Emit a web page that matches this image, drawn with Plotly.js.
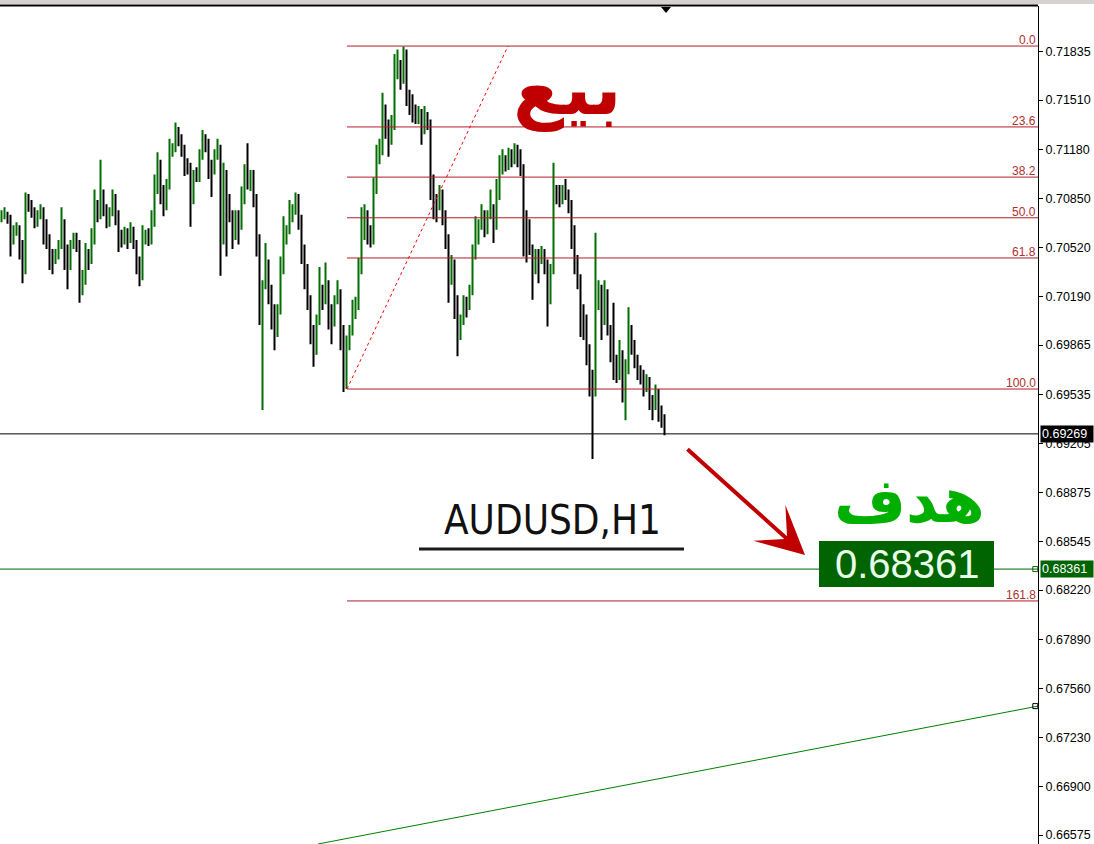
<!DOCTYPE html>
<html><head><meta charset="utf-8">
<script src="https://cdn.plot.ly/plotly-3.0.1.min.js"></script>
<style>html,body{margin:0;padding:0;background:#fff;overflow:hidden}#chart{width:1094px;height:844px}</style>
</head><body><div id="chart"></div>
<script>
// ---- AUDUSD H1 bars (prices) ----
const barOpen = [0.7072,0.7073,0.7075,0.7072,0.7057,0.7063,0.7065,0.7054,0.7037,0.7084,
0.7081,0.7076,0.7069,0.7073,0.7077,0.7067,0.7057,0.7047,0.7043,0.7047,
0.7054,0.7067,0.7051,0.7041,0.7054,0.7057,0.7054,0.7027,0.7030,0.7047,
0.7043,0.7057,0.7081,0.7074,0.7088,0.7077,0.7069,0.7076,0.7086,0.7074,
0.7061,0.7057,0.7063,0.7059,0.7064,0.7054,0.7043,0.7034,0.7057,0.7061,
0.7057,0.7069,0.7091,0.7108,0.7091,0.7081,0.7094,0.7118,0.7119,0.7128,
0.7125,0.7118,0.7108,0.7106,0.7084,0.7101,0.7099,0.7114,0.7125,0.7121,
0.7108,0.7104,0.7114,0.7119,0.7057,0.7101,0.7084,0.7074,0.7061,0.7074,
0.7067,0.7084,0.7101,0.7094,0.7101,0.7084,0.7057,0.7004,0.7027,0.7041,
0.7024,0.7010,0.6997,0.7010,0.7037,0.7057,0.7064,0.7074,0.7077,0.7084,
0.7071,0.7051,0.7037,0.7017,0.6997,0.6983,0.7004,0.7024,0.7017,0.7027,
0.7010,0.7004,0.7017,0.7020,0.6997,0.6960,0.6987,0.6997,0.7007,0.7014,
0.7037,0.7061,0.7074,0.7064,0.7057,0.7091,0.7111,0.7118,0.7145,0.7135,
0.7125,0.7135,0.7172,0.7175,0.7165,0.7182,0.7155,0.7151,0.7145,0.7138,
0.7141,0.7131,0.7138,0.7135,0.7098,0.7084,0.7081,0.7088,0.7074,0.7057,
0.7034,0.7041,0.7017,0.6997,0.7004,0.7017,0.7014,0.7024,0.7047,0.7064,
0.7067,0.7074,0.7064,0.7074,0.7077,0.7067,0.7088,0.7104,0.7111,0.7108,
0.7114,0.7111,0.7118,0.7111,0.7104,0.7074,0.7067,0.7051,0.7037,0.7047,
0.7044,0.7047,0.7041,0.7017,0.7037,0.7091,0.7088,0.7084,0.7091,0.7088,
0.7081,0.7064,0.7044,0.7030,0.7010,0.7004,0.6983,0.6967,0.6957,0.7017,
0.7024,0.7004,0.7020,0.6997,0.6987,0.6977,0.6967,0.6980,0.6963,0.6970,
0.6997,0.6987,0.6977,0.6970,0.6967,0.6960,0.6963,0.6950,0.6946,0.6953,
0.6943,0.6936];
const barHigh = [0.7077,0.7079,0.7076,0.7074,0.7067,0.7069,0.7067,0.7057,0.7089,0.7088,
0.7084,0.7079,0.7077,0.7081,0.7079,0.7071,0.7061,0.7051,0.7051,0.7057,
0.7079,0.7071,0.7054,0.7057,0.7062,0.7062,0.7057,0.7037,0.7055,0.7051,
0.7065,0.7091,0.7084,0.7111,0.7091,0.7081,0.7079,0.7091,0.7088,0.7077,
0.7064,0.7066,0.7065,0.7069,0.7066,0.7057,0.7046,0.7067,0.7064,0.7065,
0.7077,0.7101,0.7116,0.7111,0.7094,0.7098,0.7125,0.7122,0.7136,0.7133,
0.7128,0.7121,0.7112,0.7109,0.7104,0.7106,0.7118,0.7131,0.7128,0.7125,
0.7111,0.7118,0.7125,0.7121,0.7109,0.7104,0.7088,0.7077,0.7077,0.7077,
0.7093,0.7108,0.7122,0.7104,0.7104,0.7088,0.7061,0.7030,0.7055,0.7044,
0.7027,0.7014,0.7014,0.7046,0.7073,0.7067,0.7084,0.7081,0.7089,0.7088,
0.7074,0.7054,0.7041,0.7020,0.7000,0.7007,0.7039,0.7027,0.7042,0.7030,
0.7014,0.7020,0.7030,0.7024,0.7000,0.6993,0.7000,0.7017,0.7019,0.7045,
0.7079,0.7081,0.7077,0.7067,0.7099,0.7121,0.7125,0.7156,0.7148,0.7138,
0.7141,0.7182,0.7185,0.7178,0.7187,0.7185,0.7158,0.7155,0.7148,0.7147,
0.7145,0.7147,0.7143,0.7138,0.7101,0.7088,0.7094,0.7091,0.7077,0.7061,
0.7047,0.7044,0.7020,0.7007,0.7020,0.7019,0.7027,0.7054,0.7073,0.7071,
0.7081,0.7077,0.7077,0.7091,0.7081,0.7098,0.7114,0.7118,0.7114,0.7119,
0.7118,0.7122,0.7121,0.7118,0.7108,0.7077,0.7071,0.7054,0.7051,0.7051,
0.7053,0.7051,0.7044,0.7041,0.7109,0.7094,0.7094,0.7094,0.7098,0.7091,
0.7084,0.7067,0.7047,0.7034,0.7014,0.7007,0.6987,0.6970,0.7062,0.7030,
0.7027,0.7030,0.7024,0.7000,0.7015,0.6980,0.6990,0.6983,0.6977,0.7012,
0.7000,0.6990,0.6980,0.6973,0.6970,0.6967,0.6965,0.6953,0.6960,0.6957,
0.6946,0.6940];
const barLow = [0.7069,0.7071,0.7068,0.7046,0.7054,0.7060,0.7044,0.7028,0.7034,0.7076,
0.7072,0.7065,0.7066,0.7071,0.7054,0.7051,0.7037,0.7034,0.7041,0.7044,
0.7051,0.7037,0.7024,0.7037,0.7051,0.7049,0.7015,0.7020,0.7027,0.7037,
0.7041,0.7054,0.7069,0.7071,0.7073,0.7065,0.7066,0.7073,0.7067,0.7049,
0.7052,0.7054,0.7051,0.7055,0.7051,0.7034,0.7026,0.7030,0.7054,0.7053,
0.7054,0.7066,0.7088,0.7081,0.7073,0.7077,0.7091,0.7113,0.7116,0.7120,
0.7113,0.7100,0.7101,0.7066,0.7081,0.7096,0.7096,0.7111,0.7116,0.7098,
0.7086,0.7101,0.7111,0.7033,0.7054,0.7046,0.7069,0.7051,0.7057,0.7054,
0.7064,0.7081,0.7091,0.7090,0.7079,0.7046,0.7000,0.6943,0.7024,0.7014,
0.6997,0.6983,0.6992,0.7007,0.7034,0.7054,0.7061,0.7069,0.7074,0.7064,
0.7041,0.7024,0.7010,0.6987,0.6972,0.6980,0.7000,0.7010,0.7014,0.6997,
0.6987,0.6999,0.7014,0.6983,0.6955,0.6957,0.6983,0.6993,0.7004,0.7010,
0.7034,0.7057,0.7054,0.7052,0.7054,0.7088,0.7108,0.7114,0.7125,0.7113,
0.7121,0.7131,0.7165,0.7158,0.7162,0.7147,0.7141,0.7136,0.7135,0.7135,
0.7121,0.7128,0.7131,0.7084,0.7071,0.7069,0.7077,0.7067,0.7051,0.7015,
0.7027,0.7004,0.6979,0.6990,0.7000,0.7005,0.7010,0.7020,0.7044,0.7054,
0.7064,0.7059,0.7061,0.7071,0.7055,0.7064,0.7084,0.7101,0.7103,0.7104,
0.7106,0.7108,0.7106,0.7100,0.7046,0.7042,0.7047,0.7017,0.7034,0.7028,
0.7041,0.7034,0.6999,0.7014,0.7034,0.7081,0.7079,0.7081,0.7084,0.7075,
0.7051,0.7034,0.7024,0.6992,0.6990,0.6973,0.6952,0.6910,0.6952,0.7010,
0.6990,0.7000,0.6993,0.6975,0.6963,0.6961,0.6963,0.6948,0.6936,0.6967,
0.6980,0.6971,0.6963,0.6960,0.6952,0.6955,0.6943,0.6936,0.6943,0.6935,
0.6931,0.6926];
const barClose = [0.7073,0.7075,0.7072,0.7057,0.7063,0.7065,0.7054,0.7037,0.7084,0.7081,
0.7076,0.7069,0.7073,0.7077,0.7067,0.7057,0.7047,0.7043,0.7047,0.7054,
0.7067,0.7051,0.7041,0.7054,0.7057,0.7054,0.7027,0.7030,0.7047,0.7043,
0.7057,0.7081,0.7074,0.7088,0.7077,0.7069,0.7076,0.7086,0.7074,0.7061,
0.7057,0.7063,0.7059,0.7064,0.7054,0.7043,0.7034,0.7057,0.7061,0.7057,
0.7069,0.7091,0.7108,0.7091,0.7081,0.7094,0.7118,0.7119,0.7128,0.7125,
0.7118,0.7108,0.7106,0.7084,0.7101,0.7099,0.7114,0.7125,0.7121,0.7108,
0.7104,0.7114,0.7119,0.7057,0.7101,0.7084,0.7074,0.7061,0.7074,0.7067,
0.7084,0.7101,0.7094,0.7101,0.7084,0.7057,0.7004,0.7027,0.7041,0.7024,
0.7010,0.6997,0.7010,0.7037,0.7057,0.7064,0.7074,0.7077,0.7084,0.7071,
0.7051,0.7037,0.7017,0.6997,0.6983,0.7004,0.7024,0.7017,0.7027,0.7010,
0.7004,0.7017,0.7020,0.6997,0.6960,0.6987,0.6997,0.7007,0.7014,0.7037,
0.7061,0.7074,0.7064,0.7057,0.7091,0.7111,0.7118,0.7145,0.7135,0.7125,
0.7135,0.7172,0.7175,0.7165,0.7182,0.7155,0.7151,0.7145,0.7138,0.7141,
0.7131,0.7138,0.7135,0.7098,0.7084,0.7081,0.7088,0.7074,0.7057,0.7034,
0.7041,0.7017,0.6997,0.7004,0.7017,0.7014,0.7024,0.7047,0.7064,0.7067,
0.7074,0.7064,0.7074,0.7077,0.7067,0.7088,0.7104,0.7111,0.7108,0.7114,
0.7111,0.7118,0.7111,0.7104,0.7074,0.7067,0.7051,0.7037,0.7047,0.7044,
0.7047,0.7041,0.7017,0.7037,0.7091,0.7088,0.7084,0.7091,0.7088,0.7081,
0.7064,0.7044,0.7030,0.7010,0.7004,0.6983,0.6967,0.6957,0.7017,0.7024,
0.7004,0.7020,0.6997,0.6987,0.6977,0.6967,0.6980,0.6963,0.6970,0.6997,
0.6987,0.6977,0.6970,0.6967,0.6960,0.6963,0.6950,0.6946,0.6953,0.6943,
0.6936,0.69269];

// ---- price axis ----
const yTickVals = [0.71835,0.71510,0.71180,0.70850,0.70520,0.70190,0.69865,0.69535,0.69205,
  0.68875,0.68545,0.68220,0.67890,0.67560,0.67230,0.66900,0.66575];
const yTickText = ["0.71835","0.71510","0.71180","0.70850","0.70520","0.70190","0.69865","0.69535","0.69205",
  "0.68875","0.68545","0.68220","0.67890","0.67560","0.67230","0.66900","0.66575"];

// ---- Fibonacci retracement ----
const fibLevels = ["0.0","23.6","38.2","50.0","61.8","100.0","161.8"];
const fibPrices = [0.71873,0.71330,0.70993,0.70720,0.70450,0.69570,0.68147];
const fibAnchorX = [115.17, 168.83];        // bar index of the two anchors
const fibAnchorY = [0.69570, 0.71873];

// ---- other objects ----
const currentPrice = 0.69269;
const targetPrice = 0.68361;
const trendX = [105.5, 345.5];
const trendY = [0.66515, 0.67441];
const endMarkX = [344.6, 344.6];
const endMarkY = [0.68361, 0.67441];

const xRange = [-0.5, 345.5];
const yRange = [0.66515, 0.72142];

const PW = 1038, PH = 838, TOP = 6;
const px = x => x / PW;
const py = y => 1 - (y - TOP) / PH;

// fib horizontal levels as one line trace with gaps
const fibLineX = [], fibLineY = [];
fibPrices.forEach(p => { fibLineX.push(fibAnchorX[0], xRange[1], null); fibLineY.push(p, p, null); });

const traces = [
  {type:'scatter', mode:'lines', x: fibLineX, y: fibLineY, connectgaps:false,
   line:{color:'#b01e28', width:1}, hoverinfo:'skip', showlegend:false},
  {type:'ohlc', x: barOpen.map((_, i) => i), open: barOpen, high: barHigh, low: barLow, close: barClose,
   increasing:{line:{color:'#006e00', width:2}}, decreasing:{line:{color:'#000000', width:2}},
   tickwidth:0.2, hoverinfo:'skip', showlegend:false},
  {type:'scatter', mode:'lines', x: fibAnchorX, y: fibAnchorY,
   line:{color:'#ff0000', width:1, dash:'dot'}, hoverinfo:'skip', showlegend:false},
  {type:'scatter', mode:'lines', x: trendX, y: trendY,
   line:{color:'#008000', width:1}, hoverinfo:'skip', showlegend:false},
  {type:'scatter', mode:'markers', x: endMarkX, y: endMarkY, cliponaxis:false,
   marker:{symbol:'square-open', size:5, color:['#006400','#000000'], line:{width:1}},
   hoverinfo:'skip', showlegend:false}
];

const shapes = [];
shapes.push({type:'line', xref:'paper', yref:'y', x0:0, x1:1, y0:currentPrice, y1:currentPrice, line:{color:'#000', width:1}});
shapes.push({type:'line', xref:'paper', yref:'y', x0:0, x1:1, y0:targetPrice, y1:targetPrice, line:{color:'#006400', width:1}});
// top frame
shapes.push({type:'rect', xref:'paper', yref:'paper', x0:0, x1:1094/PW, y0:py(4), y1:py(0), fillcolor:'#d6d3ce', line:{width:0}});
shapes.push({type:'line', xref:'paper', yref:'paper', x0:0, x1:1, y0:py(5.5), y1:py(5.5), line:{color:'#000', width:2}});
// chart shift triangle
shapes.push({type:'path', xref:'paper', yref:'paper',
  path:`M ${px(661)},${py(7)} L ${px(671)},${py(7)} L ${px(666)},${py(13)} Z`, fillcolor:'#000', line:{width:0}});
// underline under symbol
shapes.push({type:'line', xref:'paper', yref:'paper', x0:px(419), x1:px(684), y0:py(549), y1:py(549), line:{color:'#1a1a1a', width:3}});
// target box
shapes.push({type:'rect', xref:'paper', yref:'paper', x0:px(819), x1:px(994), y0:py(587), y1:py(541), fillcolor:'#006400', line:{width:0}});

const annotations = [];
fibLevels.forEach((t, i) => annotations.push({xref:'paper', yref:'y', x:px(1037), y:fibPrices[i], xanchor:'right', yanchor:'bottom',
  text:t, showarrow:false, font:{family:'Liberation Sans, Arial, sans-serif', size:12, color:'#b03030'}, borderpad:0, yshift:-2}));
annotations.push({xref:'paper', yref:'paper', x:px(567), y:py(88), xanchor:'center', yanchor:'middle', text:'<b>بيع</b>', showarrow:false,
  font:{family:'DejaVu Sans, sans-serif', size:74, color:'#c00000'}});
annotations.push({xref:'paper', yref:'paper', x:px(909), y:py(500), xanchor:'center', yanchor:'middle', text:'<b>هدف</b>', showarrow:false,
  font:{family:'DejaVu Sans, sans-serif', size:62, color:'#00b000'}});
annotations.push({xref:'paper', yref:'paper', x:px(552), y:py(520), xanchor:'center', yanchor:'middle', text:'AUDUSD,H1', showarrow:false,
  font:{family:'Liberation Sans Narrow, DejaVu Sans Condensed, Liberation Sans, sans-serif', size:40, color:'#111'}});
annotations.push({xref:'paper', yref:'paper', x:px(907), y:py(564), xanchor:'center', yanchor:'middle', text:'0.68361', showarrow:false,
  font:{family:'Liberation Sans, Arial, sans-serif', size:40, color:'#eaffea'}});
annotations.push({xref:'paper', yref:'paper', x:px(805), y:py(555), ax:-119, ay:-107, text:'', showarrow:true,
  arrowhead:3, arrowsize:2, arrowwidth:4, arrowcolor:'#c00000'});
annotations.push({xref:'paper', yref:'y', x:px(1040), y:currentPrice, xanchor:'left', yanchor:'middle', text:'0.69269',
  showarrow:false, bgcolor:'#000', borderpad:1, width:50, align:'left',
  font:{family:'Liberation Sans, Arial, sans-serif', size:12.5, color:'#fff'}});
annotations.push({xref:'paper', yref:'y', x:px(1040), y:targetPrice, xanchor:'left', yanchor:'middle', text:'0.68361',
  showarrow:false, bgcolor:'#006400', borderpad:1, width:50, align:'left',
  font:{family:'Liberation Sans, Arial, sans-serif', size:12.5, color:'#fff'}});

const layout = {
  width:1094, height:844, margin:{l:0, r:56, t:TOP, b:0, pad:0},
  paper_bgcolor:'#fff', plot_bgcolor:'#fff', showlegend:false, dragmode:false,
  xaxis:{range:xRange, visible:false, rangeslider:{visible:false}, fixedrange:true},
  yaxis:{range:yRange, side:'right', tickmode:'array', tickvals:yTickVals, ticktext:yTickText,
    ticks:'outside', ticklen:4, tickcolor:'#000', tickwidth:1, showline:true, linecolor:'#000', linewidth:1,
    showgrid:false, zeroline:false, fixedrange:true,
    tickfont:{family:'Liberation Sans, Arial, sans-serif', size:12.5, color:'#000'}},
  shapes, annotations
};

Plotly.newPlot('chart', traces, layout, {staticPlot:true, displayModeBar:false});
</script></body></html>
